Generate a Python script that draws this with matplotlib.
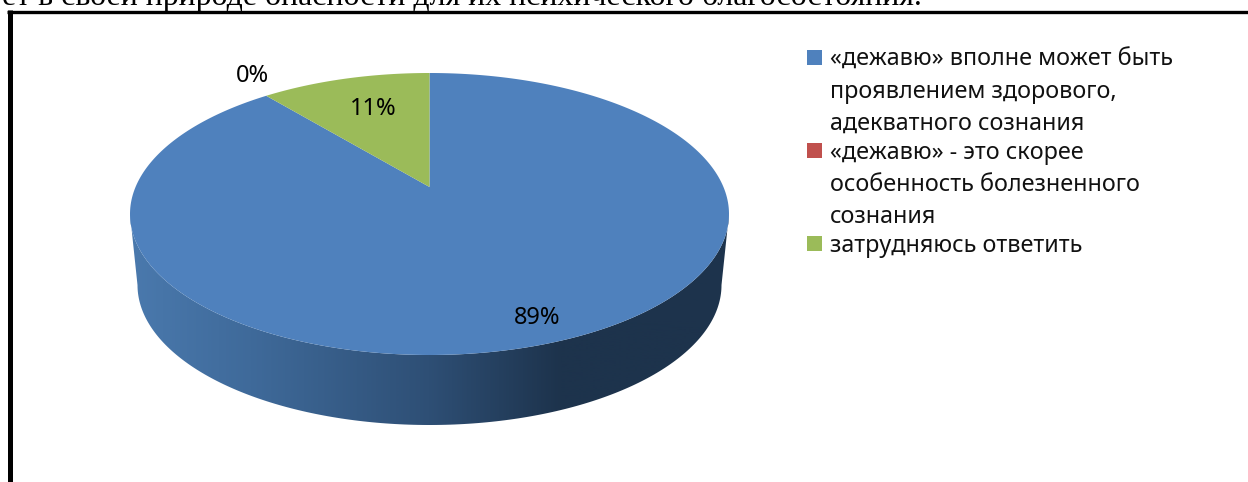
import numpy as np
import matplotlib
matplotlib.use("Agg")
import matplotlib.pyplot as plt
from matplotlib.colors import LinearSegmentedColormap
from matplotlib.patches import Polygon, Rectangle

# data
shares = [89, 0, 11]
colors = ["#4f81bd", "#c0504d", "#9bbb59"]
legend_lines = [
    ["«дежавю» вполне может быть", "проявлением здорового,", "адекватного сознания"],
    ["«дежавю» - это скорее", "особенность болезненного", "сознания"],
    ["затрудняюсь ответить"],
]
label_pos = [(537, 318), (252, 76.5), (373, 109)]
top_text = "ет в своей природе опасности для их психического благосостояния."

# pie geometry, in pixels
cx, cy, rx, ry = 429.5, 214, 299.5, 141
bot_cy, bot_rx, bot_ry = 285, 292, 140
tilt = 27 / 141  # the middle of the pie sits above the middle of the ellipse


def project(theta):
    # clockwise from 12 o'clock on a flat disc -> tilted ellipse
    X, Y = np.sin(theta), np.cos(theta)
    d = 1 + tilt * Y
    u = X * np.sqrt(1 - tilt ** 2) / d
    v = (Y + tilt) / d
    return cx + rx * u, cy - ry * v


fig = plt.figure(figsize=(12.48, 4.82), dpi=100)
ax = fig.add_axes([0, 0, 1, 1])

# side wall with gradient
t = np.linspace(0, np.pi, 200)
top_x, top_y = cx - rx * np.cos(t), cy + ry * np.sin(t)
bot_x, bot_y = cx - bot_rx * np.cos(t), bot_cy + bot_ry * np.sin(t)
wall = np.vstack([np.column_stack([top_x, top_y]), np.column_stack([bot_x, bot_y])[::-1]])
cmap = LinearSegmentedColormap.from_list(
    "wall",
    [(0, "#4a79ad"), (0.2, "#3f6a9a"), (0.5, "#2e4f75"), (0.72, "#1d334c"), (1, "#1d334c")],
)
grad = np.linspace(0, 1, 600).reshape(1, -1)
im = ax.imshow(grad, extent=[130, 729, 430, 210], aspect="auto", cmap=cmap, zorder=1)
im.set_clip_path(Polygon(wall, transform=ax.transData))

# top face
start = 0
for v, c in zip(shares, colors):
    if v > 0:
        a = np.linspace(start, start + v / 100 * 2 * np.pi, 300)
        x, y = project(a)
        ax.fill(np.r_[cx, x], np.r_[cy - ry * tilt, y], color=c, lw=0, zorder=2)
    start += v / 100 * 2 * np.pi

for v, (x, y) in zip(shares, label_pos):
    ax.text(x, y, f"{v}%", fontsize=17, family="Noto Sans", ha="center", va="center", color="black", zorder=3)

# legend
line_y = 60
for lines, c in zip(legend_lines, colors):
    ax.add_patch(Rectangle((807, line_y - 10), 15, 15, color=c, lw=0))
    for line in lines:
        ax.text(830, line_y, line, fontsize=16.85, family="Noto Sans", va="center", ha="left", color="#111111")
        line_y += 31.7
    line_y -= 1.9

# frame of the text box and the page text cut off above it
ax.plot([9.8, 9.8], [482, 10], color="black", lw=3.6, solid_capstyle="butt")
ax.plot([7.3, 1248], [11.6, 11.6], color="black", lw=2.4, solid_capstyle="butt")
ax.text(2, 5, top_text, fontsize=22.95, family="Liberation Serif", va="baseline", ha="left", color="black")

ax.set_xlim(0, 1248)
ax.set_ylim(482, 0)
ax.axis("off")
fig.savefig("out.png", dpi=100)
